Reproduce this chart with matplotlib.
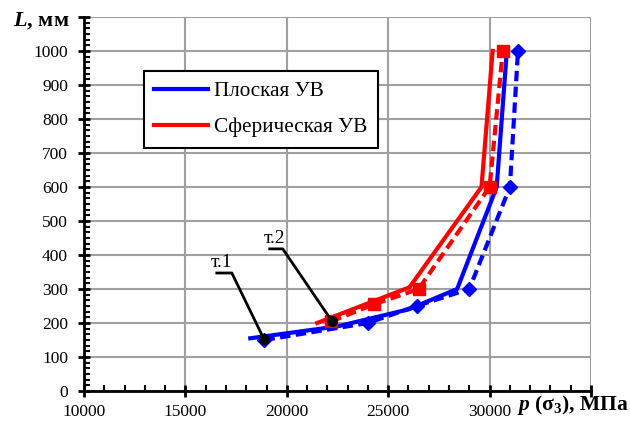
import matplotlib
matplotlib.use("Agg")
import matplotlib.pyplot as plt
from matplotlib.ticker import MultipleLocator, AutoMinorLocator

plt.rcParams['font.family'] = ['Liberation Serif', 'DejaVu Serif']
plt.rcParams['mathtext.fontset'] = 'custom'
plt.rcParams['mathtext.rm'] = 'Liberation Serif:bold'
plt.rcParams['mathtext.it'] = 'Liberation Serif:italic:bold'

# plane wave: calculated (solid) and experimental points (dashed, diamonds)
flat_p = [18200, 22500, 26000, 28400, 30350, 30850]
flat_L = [155, 190, 240, 300, 600, 1000]
flat_p_pts = [18900, 24000, 26400, 29000, 31000, 31400]
flat_L_pts = [150, 200, 250, 300, 600, 1000]

# spherical wave
sph_p = [21500, 26050, 29600, 30150]
sph_L = [200, 305, 600, 1000]
sph_p_pts = [22200, 24300, 26500, 30000, 30650]
sph_L_pts = [205, 255, 300, 600, 1000]

# marked points т.1, т.2
pt_names = ['т.1', 'т.2']
pt_p = [18870, 22220]
pt_L = [153, 206]
# label underline: left x, right x, height
pt_line_x0 = [16550, 19160]
pt_line_x1 = [17290, 19800]
pt_line_y = [347, 418]

fig = plt.figure(figsize=(6.3, 4.23), dpi=100)
ax = fig.add_axes([0.1333, 0.0757, 0.8048, 0.8841])

blue = '#0000ff'
red = '#ff0000'
ax.plot(flat_p, flat_L, color=blue, lw=3, zorder=3)
ax.plot(flat_p_pts, flat_L_pts, color=blue, lw=3, ls=(0, (2.5, 1.3)),
        marker='D', ms=7, zorder=3)
ax.plot(sph_p, sph_L, color=red, lw=3, zorder=3)
ax.plot(sph_p_pts, sph_L_pts, color=red, lw=3, ls=(0, (2.5, 1.3)),
        marker='s', ms=9, zorder=3)

ax.plot(pt_p, pt_L, 'o', color='black', ms=7, zorder=5)
# leader lines from the labels to the points
for name, x0, x1, ly, px, py in zip(pt_names, pt_line_x0, pt_line_x1,
                                    pt_line_y, pt_p, pt_L):
    ax.plot([x0, x1, px], [ly, ly, py], color='black', lw=2, zorder=4)
    ax.text(x0 - 300, ly + 5, name, ha='left', va='bottom', fontsize=14)

ax.set_xlim(10000, 35000)
ax.set_ylim(0, 1100)
ax.xaxis.set_major_locator(MultipleLocator(5000))
ax.xaxis.set_minor_locator(MultipleLocator(1000))
ax.yaxis.set_major_locator(MultipleLocator(100))
ax.yaxis.set_minor_locator(AutoMinorLocator(6))
ax.grid(True, which='major', color='#a0a0a0', lw=1.5)
ax.set_axisbelow(True)
for s in ['top', 'right']:
    ax.spines[s].set_visible(False)
for s in ['left', 'bottom']:
    ax.spines[s].set_linewidth(2)
ax.tick_params(which='major', direction='inout', length=9, width=2,
               labelsize=12.5)
ax.tick_params(axis='y', which='major', pad=7)
ax.tick_params(axis='x', which='major', pad=5)
ax.tick_params(which='minor', direction='in', length=4, width=1.5)

xt = list(range(10000, 35001, 5000))
ax.set_xticks(xt)
ax.set_xticklabels([str(v) for v in xt[:-1]] + [''])
yt = list(range(0, 1101, 100))
ax.set_yticks(yt)
ax.set_yticklabels([str(v) for v in yt[:-1]] + [''])

fig.text(0.110, 0.951, r'$L$, мм', ha='right', va='center',
         fontsize=16, fontweight='bold')
fig.text(0.998, 0.042, r'$p$ (σ$_3$), МПа', ha='right', va='center',
         fontsize=15.5, fontweight='bold')

leg = ax.legend([plt.Line2D([], [], color=blue, lw=3),
                 plt.Line2D([], [], color=red, lw=3)],
                ['Плоская УВ', 'Сферическая УВ'],
                loc='upper left', bbox_to_anchor=(0.118, 0.856),
                borderaxespad=0, fontsize=15.3, frameon=True, fancybox=False,
                edgecolor='black', handlelength=2.5, labelspacing=0.75,
                borderpad=0.5, handletextpad=0.3)
leg.get_frame().set_linewidth(1.5)
leg.get_frame().set_alpha(1)

fig.savefig('out.png', dpi=100)
